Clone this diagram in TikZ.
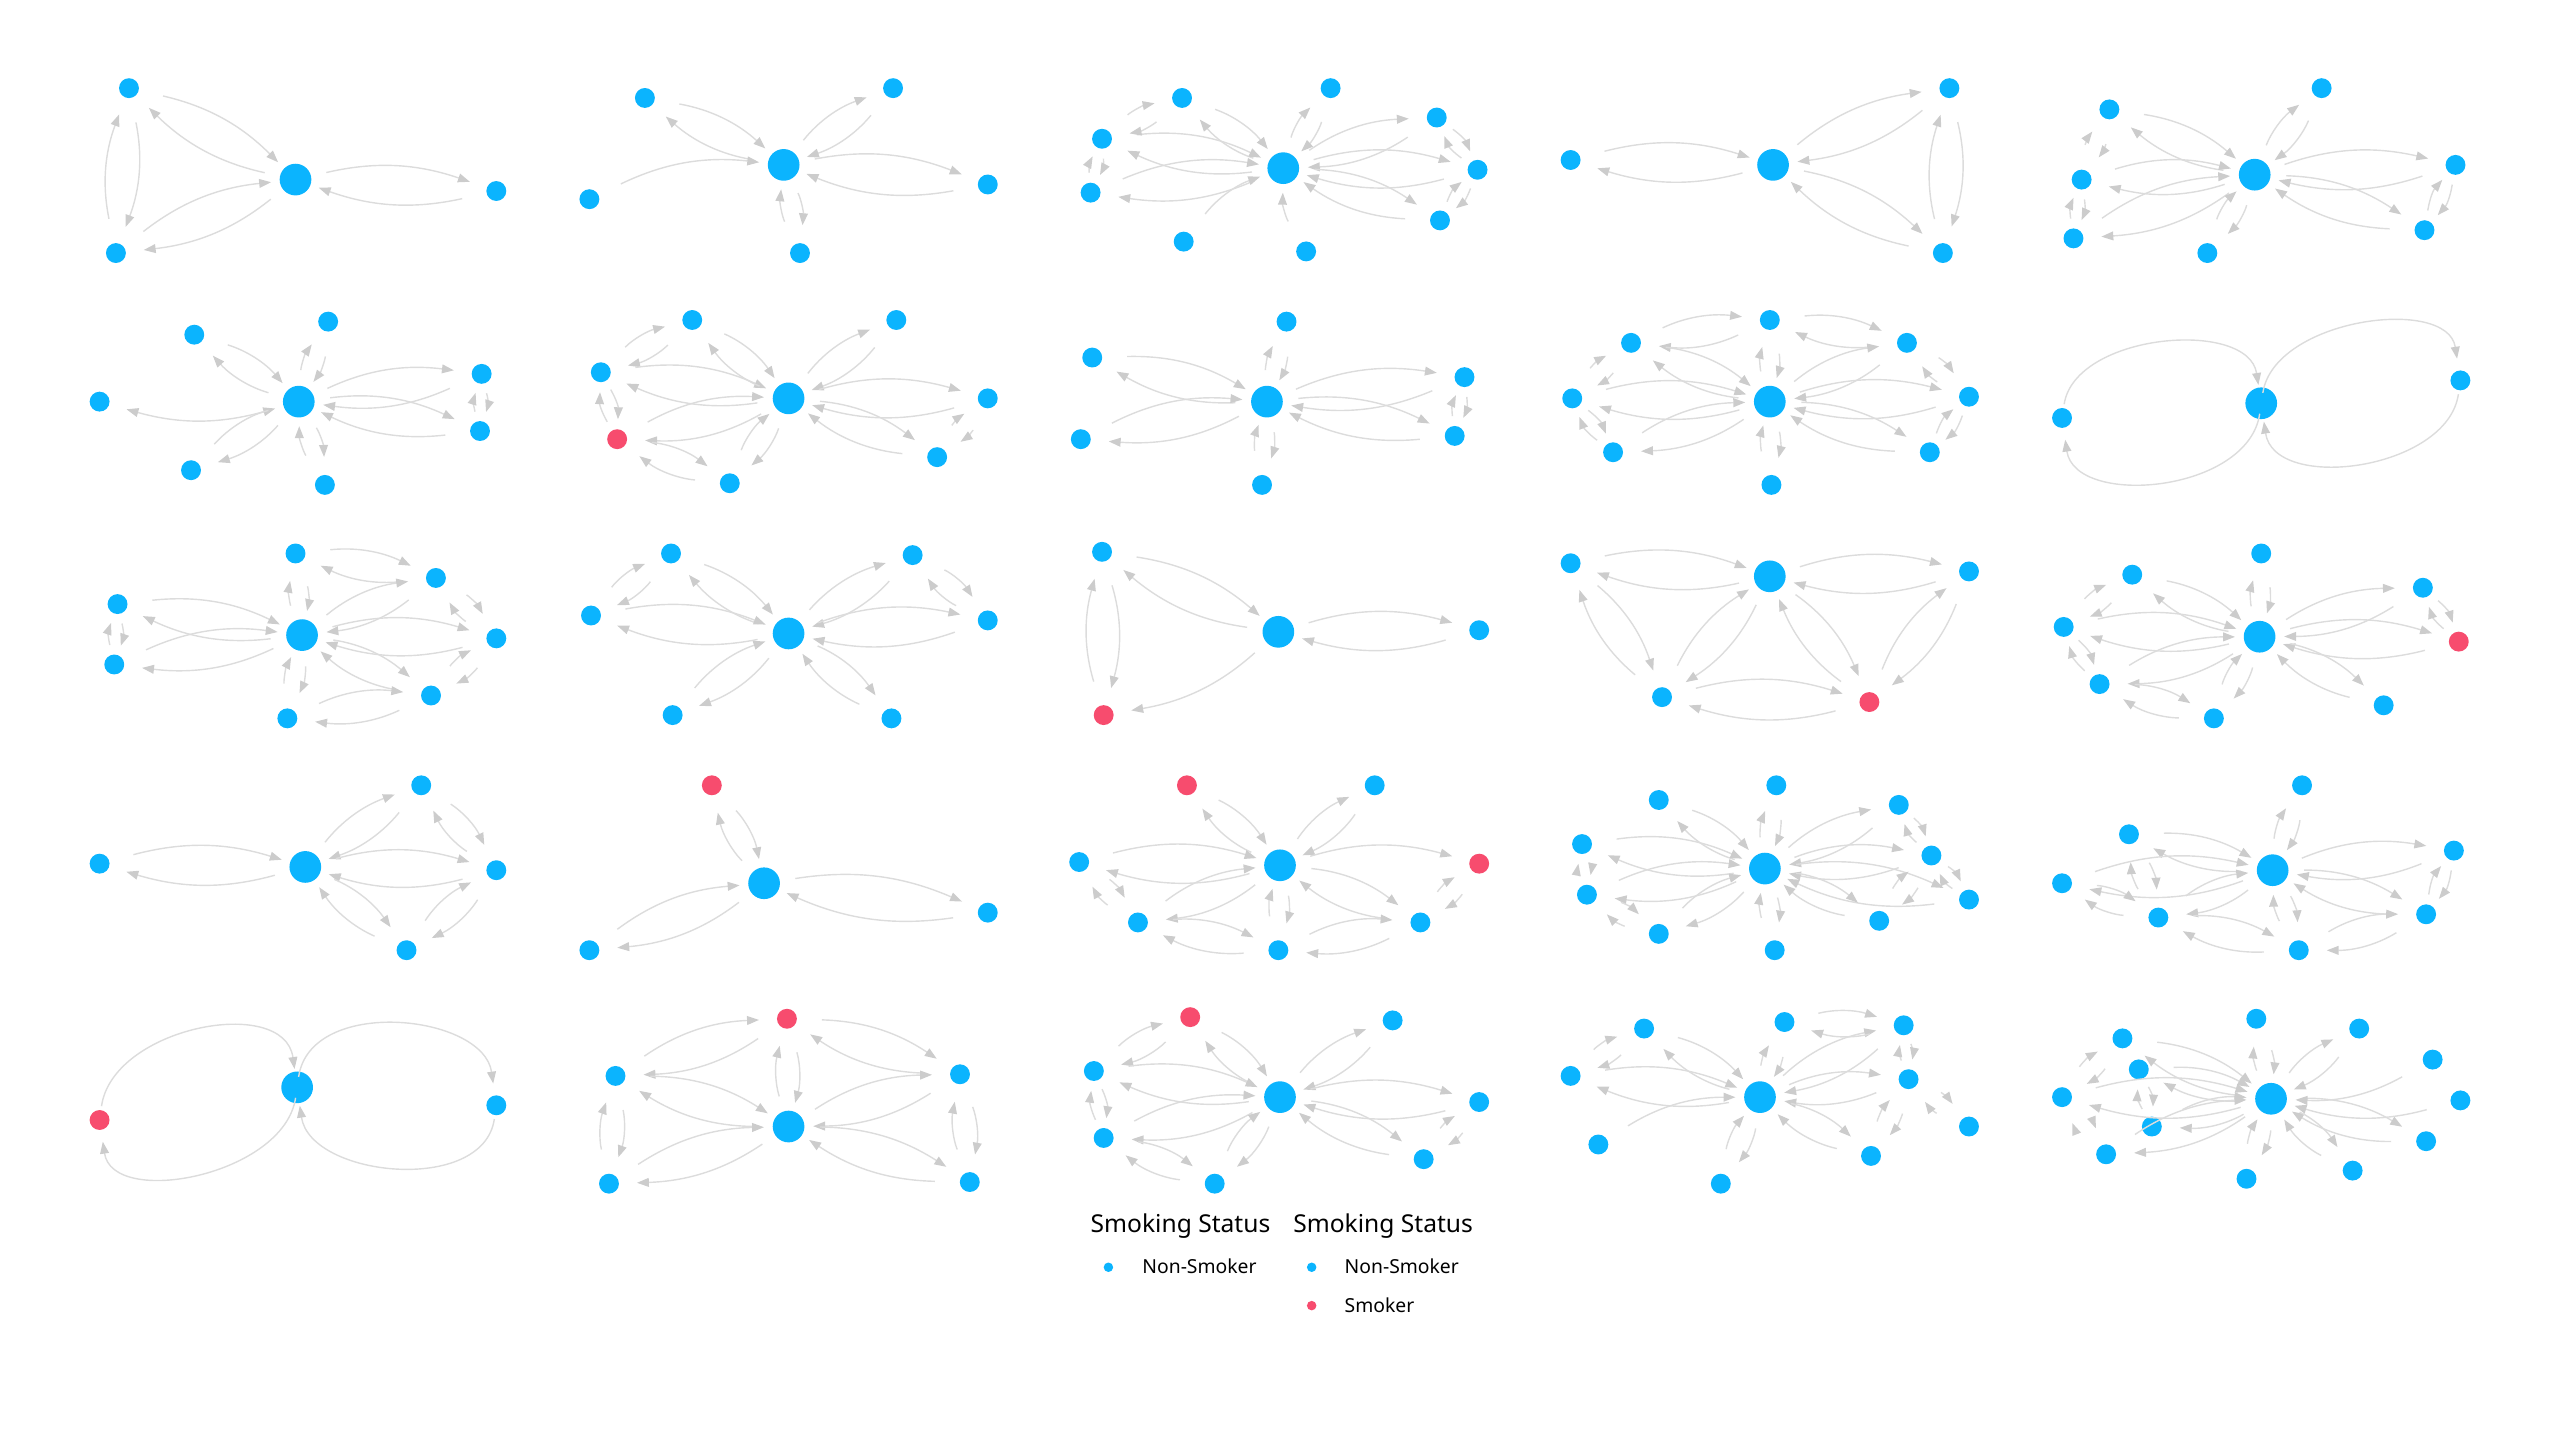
\documentclass[tikz,border=0pt]{standalone}
\usepackage{fontspec}
\setmainfont{Noto Sans}
\usetikzlibrary{arrows.meta}
\definecolor{nonsmk}{RGB}{11,180,254}
\definecolor{smk}{RGB}{247,76,110}
\definecolor{edgegray}{RGB}{220,220,220}
\definecolor{tipgray}{RGB}{204,204,204}
\tikzset{
	hub/.style={circle,fill=nonsmk,inner sep=0pt,minimum size=3.17mm},
	leaf/.style={circle,fill=nonsmk,inner sep=0pt,minimum size=1.99mm,outer sep=1mm},
	smoker/.style={leaf,fill=smk},
	link/.style={draw=edgegray,line width=0.4pt,bend left=16,shorten <=1.5mm,shorten >=0.8mm,
		-{Triangle[length=3.4pt,width=2.5pt,color=tipgray]}},
	tight/.style={link,shorten <=0pt,shorten >=0pt},
	swing/.style={draw=edgegray,line width=0.4pt,shorten <=-0.6mm,shorten >=0.2mm,
		-{Triangle[length=3.4pt,width=2.5pt,color=tipgray]}},
	ttl/.style={anchor=base west,inner sep=0pt,font=\fontsize{7}{8}\selectfont},
	lbl/.style={anchor=base west,inner sep=0pt,font=\fontsize{5.5}{6.5}\selectfont},
	dot/.style={circle,inner sep=0pt,minimum size=0.95mm},
}
\begin{document}
\begin{tikzpicture}[x=0.016327cm,y=-0.016327cm]
	\useasboundingbox (0,0) rectangle (1568,882);
	% row 1
	\path (181,110) node[hub] (p1h) {};
	\path (79,54) node[leaf] (p1a) {};
	\path (71,155) node[leaf] (p1b) {};
	\path (304,117) node[leaf] (p1c) {};
	\foreach \s/\t in {a/b,h/a,h/b,h/c}
		{\draw[link] (p1\s) to (p1\t); \draw[link] (p1\t) to (p1\s);}

	\path (480,101) node[hub] (p2h) {};
	\path (395,60) node[leaf] (p2a) {};
	\path (547,54) node[leaf] (p2b) {};
	\path (361,122) node[leaf] (p2c) {};
	\path (490,155) node[leaf] (p2d) {};
	\path (605,113) node[leaf] (p2e) {};
	\foreach \s/\t in {h/a,h/b,h/d,h/e}
		{\draw[link] (p2\s) to (p2\t); \draw[link] (p2\t) to (p2\s);}
	\draw[link] (p2c) to (p2h);

	\path (786,103) node[hub] (p3h) {};
	\path (724,60) node[leaf] (p3a) {};
	\path (815,54) node[leaf] (p3b) {};
	\path (880,72) node[leaf] (p3c) {};
	\path (675,85) node[leaf] (p3d) {};
	\path (905,104) node[leaf] (p3e) {};
	\path (668,118) node[leaf] (p3f) {};
	\path (882,135) node[leaf] (p3g) {};
	\path (725,148) node[leaf] (p3i) {};
	\path (800,154) node[leaf] (p3j) {};
	\foreach \s/\t in {h/a,h/b,h/c,h/d,h/e,h/f,h/g,d/a}
		{\draw[link] (p3\s) to (p3\t); \draw[link] (p3\t) to (p3\s);}
	\foreach \s/\t in {d/f,c/e,e/g}
		{\draw[tight] (p3\s) to (p3\t); \draw[tight] (p3\t) to (p3\s);}
	\draw[link] (p3i) to (p3h);
	\draw[link] (p3j) to (p3h);

	\path (1086,101) node[hub] (p4h) {};
	\path (962,98) node[leaf] (p4a) {};
	\path (1194,54) node[leaf] (p4b) {};
	\path (1190,155) node[leaf] (p4c) {};
	\foreach \s/\t in {h/a,h/b,h/c,b/c}
		{\draw[link] (p4\s) to (p4\t); \draw[link] (p4\t) to (p4\s);}

	\path (1381,107) node[hub] (p5h) {};
	\path (1422,54) node[leaf] (p5a) {};
	\path (1292,67) node[leaf] (p5b) {};
	\path (1275,110) node[leaf] (p5c) {};
	\path (1504,101) node[leaf] (p5d) {};
	\path (1270,146) node[leaf] (p5e) {};
	\path (1352,155) node[leaf] (p5f) {};
	\path (1485,141) node[leaf] (p5g) {};
	\foreach \s/\t in {h/a,h/b,h/c,h/d,h/e,h/f,h/g,b/c}
		{\draw[link] (p5\s) to (p5\t); \draw[link] (p5\t) to (p5\s);}
	\foreach \s/\t in {c/e,d/g}
		{\draw[tight] (p5\s) to (p5\t); \draw[tight] (p5\t) to (p5\s);}

	% row 2
	\path (183,246) node[hub] (p6h) {};
	\path (61,246) node[leaf] (p6a) {};
	\path (119,205) node[leaf] (p6b) {};
	\path (201,197) node[leaf] (p6c) {};
	\path (295,229) node[leaf] (p6d) {};
	\path (294,264) node[leaf] (p6e) {};
	\path (117,288) node[leaf] (p6f) {};
	\path (199,297) node[leaf] (p6g) {};
	\foreach \s/\t in {h/b,h/c,h/d,h/e,h/f,h/g}
		{\draw[link] (p6\s) to (p6\t); \draw[link] (p6\t) to (p6\s);}
	\draw[tight] (p6d) to (p6e); \draw[tight] (p6e) to (p6d);
	\draw[link] (p6h) to (p6a);

	\path (483,244) node[hub] (p7h) {};
	\path (424,196) node[leaf] (p7a) {};
	\path (549,196) node[leaf] (p7b) {};
	\path (368,228) node[leaf] (p7c) {};
	\path (605,244) node[leaf] (p7d) {};
	\path (378,269) node[smoker] (p7r) {};
	\path (447,296) node[leaf] (p7e) {};
	\path (574,280) node[leaf] (p7f) {};
	\foreach \s/\t in {c/a,c/h,h/a,h/r,r/e,e/h,h/b,h/d,h/f,f/d}
		{\draw[link] (p7\s) to (p7\t); \draw[link] (p7\t) to (p7\s);}
	\draw[tight] (p7c) to (p7r); \draw[tight] (p7r) to (p7c);

	\path (776,246) node[hub] (p8h) {};
	\path (669,219) node[leaf] (p8a) {};
	\path (788,197) node[leaf] (p8b) {};
	\path (897,231) node[leaf] (p8c) {};
	\path (662,269) node[leaf] (p8d) {};
	\path (891,267) node[leaf] (p8e) {};
	\path (773,297) node[leaf] (p8f) {};
	\foreach \s/\t in {h/a,h/b,h/c,h/d,h/e,h/f}
		{\draw[link] (p8\s) to (p8\t); \draw[link] (p8\t) to (p8\s);}
	\draw[tight] (p8c) to (p8e); \draw[tight] (p8e) to (p8c);

	\path (1084,246) node[hub] (p9h) {};
	\path (999,210) node[leaf] (p9a) {};
	\path (1084,196) node[leaf] (p9b) {};
	\path (1168,210) node[leaf] (p9c) {};
	\path (963,244) node[leaf] (p9d) {};
	\path (1206,243) node[leaf] (p9e) {};
	\path (988,277) node[leaf] (p9f) {};
	\path (1182,277) node[leaf] (p9g) {};
	\path (1085,297) node[leaf] (p9i) {};
	\foreach \s/\t in {a/b,b/c,a/d,h/a,h/b,h/c,h/d,h/e,h/f,h/g,h/i,c/e}
		{\draw[link] (p9\s) to (p9\t); \draw[link] (p9\t) to (p9\s);}
	\foreach \s/\t in {d/f,e/g}
		{\draw[tight] (p9\s) to (p9\t); \draw[tight] (p9\t) to (p9\s);}

	\path (1385,247) node[hub] (p10h) {};
	\path (1263,256) node[leaf] (p10a) {};
	\path (1507,233) node[leaf] (p10b) {};
	\draw[swing] (p10a) .. controls +(8,-52) and +(-8,-52) .. (p10h);
	\draw[swing] (p10h) .. controls +(-8,55) and +(8,55) .. (p10a);
	\draw[swing] (p10h) .. controls +(8,-52) and +(-8,-52) .. (p10b);
	\draw[swing] (p10b) .. controls +(-8,55) and +(8,55) .. (p10h);

	% row 3
	\path (185,389) node[hub] (p11h) {};
	\path (181,339) node[leaf] (p11a) {};
	\path (72,370) node[leaf] (p11b) {};
	\path (267,354) node[leaf] (p11c) {};
	\path (304,391) node[leaf] (p11d) {};
	\path (70,407) node[leaf] (p11e) {};
	\path (264,426) node[leaf] (p11f) {};
	\path (176,440) node[leaf] (p11g) {};
	\foreach \s/\t in {h/b,h/e,h/a,a/c,h/c,c/d,h/d,h/f,f/d,h/g,g/f}
		{\draw[link] (p11\s) to (p11\t); \draw[link] (p11\t) to (p11\s);}
	\draw[tight] (p11b) to (p11e); \draw[tight] (p11e) to (p11b);

	\path (483,388) node[hub] (p12h) {};
	\path (411,339) node[leaf] (p12a) {};
	\path (559,340) node[leaf] (p12b) {};
	\path (362,377) node[leaf] (p12c) {};
	\path (605,380) node[leaf] (p12d) {};
	\path (412,438) node[leaf] (p12e) {};
	\path (546,440) node[leaf] (p12f) {};
	\foreach \s/\t in {c/a,h/a,h/b,b/d,h/d,h/c,h/e,h/f}
		{\draw[link] (p12\s) to (p12\t); \draw[link] (p12\t) to (p12\s);}

	\path (783,387) node[hub] (p13h) {};
	\path (675,338) node[leaf] (p13a) {};
	\path (906,386) node[leaf] (p13b) {};
	\path (676,438) node[smoker] (p13r) {};
	\foreach \s/\t in {a/r,h/a,h/b}
		{\draw[link] (p13\s) to (p13\t); \draw[link] (p13\t) to (p13\s);}
	\draw[link] (p13h) to (p13r);

	\path (1084,353) node[hub] (p14h) {};
	\path (962,345) node[leaf] (p14a) {};
	\path (1206,350) node[leaf] (p14b) {};
	\path (1018,427) node[leaf] (p14c) {};
	\path (1145,430) node[smoker] (p14r) {};
	\foreach \s/\t in {a/h,h/b,a/c,h/c,h/r,b/r,c/r}
		{\draw[link] (p14\s) to (p14\t); \draw[link] (p14\t) to (p14\s);}

	\path (1384,390) node[hub] (p15h) {};
	\path (1385,339) node[leaf] (p15a) {};
	\path (1306,352) node[leaf] (p15b) {};
	\path (1484,360) node[leaf] (p15c) {};
	\path (1264,384) node[leaf] (p15d) {};
	\path (1506,393) node[smoker] (p15r) {};
	\path (1286,419) node[leaf] (p15e) {};
	\path (1460,432) node[leaf] (p15f) {};
	\path (1356,440) node[leaf] (p15g) {};
	\foreach \s/\t in {b/d,h/b,h/a,h/c,h/r,h/d,h/e,h/f,h/g,e/g}
		{\draw[link] (p15\s) to (p15\t); \draw[link] (p15\t) to (p15\s);}
	\foreach \s/\t in {d/e,c/r}
		{\draw[tight] (p15\s) to (p15\t); \draw[tight] (p15\t) to (p15\s);}

	% row 4
	\path (187,531) node[hub] (p16h) {};
	\path (61,529) node[leaf] (p16a) {};
	\path (258,481) node[leaf] (p16b) {};
	\path (304,533) node[leaf] (p16c) {};
	\path (249,582) node[leaf] (p16d) {};
	\foreach \s/\t in {a/h,h/b,b/c,h/c,h/d,d/c}
		{\draw[link] (p16\s) to (p16\t); \draw[link] (p16\t) to (p16\s);}

	\path (468,541) node[hub] (p17h) {};
	\path (436,481) node[smoker] (p17r) {};
	\path (605,559) node[leaf] (p17a) {};
	\path (361,582) node[leaf] (p17b) {};
	\foreach \s/\t in {r/h,h/a,b/h}
		{\draw[link] (p17\s) to (p17\t); \draw[link] (p17\t) to (p17\s);}

	\path (784,530) node[hub] (p18h) {};
	\path (727,481) node[smoker] (p18r) {};
	\path (842,481) node[leaf] (p18a) {};
	\path (661,528) node[leaf] (p18b) {};
	\path (906,529) node[smoker] (p18s) {};
	\path (697,565) node[leaf] (p18c) {};
	\path (870,565) node[leaf] (p18d) {};
	\path (783,582) node[leaf] (p18e) {};
	\foreach \s/\t in {h/r,h/a,h/b,h/c,h/d,h/e,b/c,c/e,e/d,d/s}
		{\draw[link] (p18\s) to (p18\t); \draw[link] (p18\t) to (p18\s);}
	\draw[link] (p18h) to (p18s);

	\path (1081,532) node[hub] (p19h) {};
	\path (1016,490) node[leaf] (p19a) {};
	\path (1088,481) node[leaf] (p19b) {};
	\path (1163,493) node[leaf] (p19c) {};
	\path (969,517) node[leaf] (p19d) {};
	\path (1183,524) node[leaf] (p19e) {};
	\path (972,548) node[leaf] (p19f) {};
	\path (1206,551) node[leaf] (p19g) {};
	\path (1016,572) node[leaf] (p19i) {};
	\path (1151,564) node[leaf] (p19j) {};
	\path (1087,582) node[leaf] (p19k) {};
	\foreach \s/\t in {h/a,h/b,h/c,h/d,h/e,h/f,h/g,h/i,h/j,h/k,f/i,e/j}
		{\draw[link] (p19\s) to (p19\t); \draw[link] (p19\t) to (p19\s);}
	\foreach \s/\t in {d/f,c/e,e/g}
		{\draw[tight] (p19\s) to (p19\t); \draw[tight] (p19\t) to (p19\s);}

	\path (1392,533) node[hub] (p20h) {};
	\path (1410,481) node[leaf] (p20a) {};
	\path (1304,511) node[leaf] (p20b) {};
	\path (1263,541) node[leaf] (p20c) {};
	\path (1503,521) node[leaf] (p20d) {};
	\path (1322,562) node[leaf] (p20e) {};
	\path (1486,560) node[leaf] (p20f) {};
	\path (1408,582) node[leaf] (p20g) {};
	\foreach \s/\t in {h/a,h/b,h/c,h/d,h/e,h/f,h/g,b/e,c/e,e/g,g/f}
		{\draw[link] (p20\s) to (p20\t); \draw[link] (p20\t) to (p20\s);}
	\draw[tight] (p20d) to (p20f); \draw[tight] (p20f) to (p20d);

	% row 5
	\path (182,666) node[hub] (p21h) {};
	\path (61,686) node[smoker] (p21r) {};
	\path (304,677) node[leaf] (p21a) {};
	\draw[swing] (p21r) .. controls +(8,-57) and +(-8,-57) .. (p21h);
	\draw[swing] (p21h) .. controls +(-8,54) and +(8,54) .. (p21r);
	\draw[swing] (p21h) .. controls +(8,-56) and +(-8,-56) .. (p21a);
	\draw[swing] (p21a) .. controls +(-8,55) and +(8,55) .. (p21h);

	\path (483,690) node[hub] (p22h) {};
	\path (482,624) node[smoker] (p22r) {};
	\path (377,659) node[leaf] (p22a) {};
	\path (588,658) node[leaf] (p22b) {};
	\path (373,725) node[leaf] (p22c) {};
	\path (594,724) node[leaf] (p22d) {};
	\foreach \s/\t in {r/a,r/b,r/h,h/a,h/b,a/c,b/d,h/c,h/d}
		{\draw[link] (p22\s) to (p22\t); \draw[link] (p22\t) to (p22\s);}

	\path (784,672) node[hub] (p23h) {};
	\path (729,623) node[smoker] (p23r) {};
	\path (853,625) node[leaf] (p23a) {};
	\path (670,656) node[leaf] (p23b) {};
	\path (906,675) node[leaf] (p23c) {};
	\path (676,697) node[leaf] (p23d) {};
	\path (872,710) node[leaf] (p23e) {};
	\path (744,725) node[leaf] (p23f) {};
	\foreach \s/\t in {r/b,r/h,h/a,h/b,h/c,h/d,h/e,h/f,d/f,e/c}
		{\draw[link] (p23\s) to (p23\t); \draw[link] (p23\t) to (p23\s);}
	\draw[tight] (p23b) to (p23d); \draw[tight] (p23d) to (p23b);

	\path (1078,672) node[hub] (p24h) {};
	\path (1007,630) node[leaf] (p24a) {};
	\path (1093,626) node[leaf] (p24b) {};
	\path (1166,628) node[leaf] (p24c) {};
	\path (962,659) node[leaf] (p24d) {};
	\path (1169,661) node[leaf] (p24e) {};
	\path (1206,690) node[leaf] (p24f) {};
	\path (979,701) node[leaf] (p24g) {};
	\path (1146,708) node[leaf] (p24i) {};
	\path (1054,725) node[leaf] (p24j) {};
	\foreach \s/\t in {a/d,h/a,h/b,h/c,b/c,h/d,h/e,e/f,h/i,i/e,h/j}
		{\draw[link] (p24\s) to (p24\t); \draw[link] (p24\t) to (p24\s);}
	\draw[tight] (p24c) to (p24e); \draw[tight] (p24e) to (p24c);
	\draw[link] (p24g) to (p24h);

	\path (1391,673) node[hub] (p25h) {};
	\path (1382,624) node[leaf] (p25a) {};
	\path (1445,630) node[leaf] (p25b) {};
	\path (1300,636) node[leaf] (p25c) {};
	\path (1310,655) node[leaf] (p25d) {};
	\path (1490,649) node[leaf] (p25e) {};
	\path (1263,672) node[leaf] (p25f) {};
	\path (1507,674) node[leaf] (p25g) {};
	\path (1318,690) node[leaf] (p25i) {};
	\path (1486,699) node[leaf] (p25j) {};
	\path (1290,707) node[leaf] (p25k) {};
	\path (1441,717) node[leaf] (p25l) {};
	\path (1376,722) node[leaf] (p25m) {};
	\foreach \s/\t in {h/a,h/b,h/c,h/d,h/f,h/i,h/j,h/k,h/l,h/m,c/f,f/k}
		{\draw[link] (p25\s) to (p25\t); \draw[link] (p25\t) to (p25\s);}
	\draw[tight] (p25d) to (p25i); \draw[tight] (p25i) to (p25d);
	\draw[link] (p25e) to (p25h);
	\draw[link] (p25g) to (p25h);

	% legend
	\path (667.6,755) node[ttl] (t1) {Smoking Status};
	\path (791.7,755) node[ttl] (t2) {Smoking Status};
	\path (678.9,776.2) node[dot,fill=nonsmk] (k1) {};
	\path (699.3,780.3) node[lbl] (l1) {Non-Smoker};
	\path (803.4,776.2) node[dot,fill=nonsmk] (k2) {};
	\path (823.2,780.3) node[lbl] (l2) {Non-Smoker};
	\path (803.4,799.7) node[dot,fill=smk] (k3) {};
	\path (823.2,803.8) node[lbl] (l3) {Smoker};
\end{tikzpicture}
\end{document}
